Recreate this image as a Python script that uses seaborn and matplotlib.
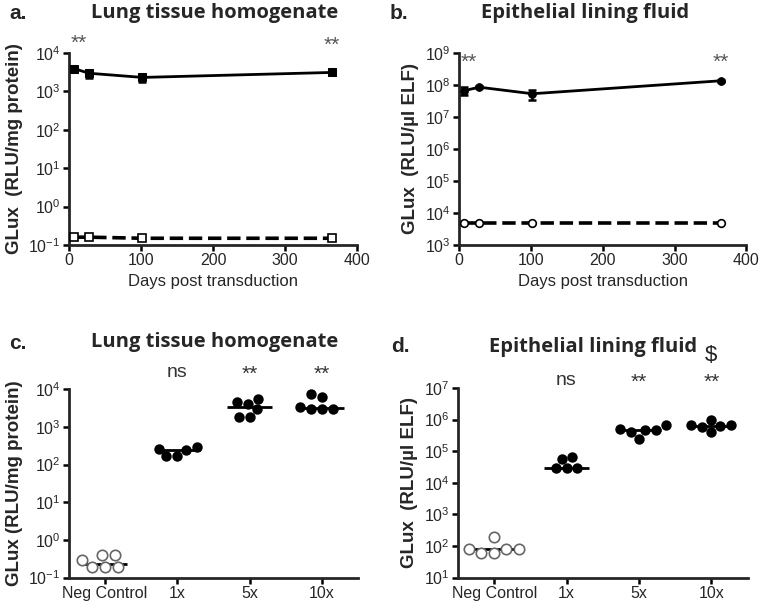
import numpy as np
import pandas as pd
import seaborn as sns
import matplotlib.pyplot as plt
from matplotlib.ticker import NullLocator, LogFormatterMathtext
import matplotlib.transforms as mtransforms

sns.set_style("ticks")
plt.rcParams['font.family'] = ['Liberation Sans', 'DejaVu Sans']
plt.rcParams['mathtext.fontset'] = 'custom'
plt.rcParams['mathtext.rm'] = 'Liberation Sans'
plt.rcParams['mathtext.it'] = 'Liberation Sans:italic'
plt.rcParams['mathtext.bf'] = 'Liberation Sans:bold'

# time course data (panels a, b)
days = [7, 28, 102, 365]
a_glux = [3900, 2950, 2300, 3100]
a_err = [500, 700, 500, 450]
a_neg = [0.16, 0.16, 0.15, 0.15]
b_glux = [6.6e7, 8.5e7, 5.3e7, 1.35e8]
b_err = [1.8e7, 5e6, 1.8e7, 8e6]
b_neg = [4800, 4800, 4800, 4800]

# dose data (panels c, d)
groups = ["Neg Control", "1x", "5x", "10x"]
c_neg = [0.39, 0.19, 0.19, 0.19, 0.29, 0.39]
c_1x = [290, 265, 170, 170, 250]
c_5x = [4500, 2900, 4100, 1850, 5500, 1850]
c_10x = [7500, 6200, 2900, 2900, 2900, 3400]
d_neg = [82, 62, 190, 62, 80, 78]
d_1x = [66000, 30000, 29000, 29000, 57000]
d_5x = [500000, 415000, 650000, 245000, 450000, 450000]
d_10x = [650000, 620000, 400000, 600000, 650000, 950000]

title_font = dict(family=['Open Sans', 'DejaVu Sans'], fontsize=14.5, fontweight='bold')
ylab_font = dict(fontsize=13.5, fontweight='bold')


def style_axis(ax, lo_exp, hi_exp):
    ax.set_yscale('log')
    ax.set_ylim(10.0 ** lo_exp, 10.0 ** hi_exp)
    ax.set_yticks(10.0 ** np.arange(lo_exp, hi_exp + 1))
    ax.yaxis.set_minor_locator(NullLocator())
    ax.yaxis.set_major_formatter(LogFormatterMathtext())
    for s in ['top', 'right']:
        ax.spines[s].set_visible(False)
    for s in ['left', 'bottom']:
        ax.spines[s].set_linewidth(2)
    ax.tick_params(width=1.8, length=4.5, labelsize=11.5, color='black', pad=1.5)


fig = plt.figure(figsize=(7.6, 6.08), dpi=100)
ax_a = fig.add_axes([0.0908, 0.597, 0.379, 0.316])
ax_b = fig.add_axes([0.604, 0.597, 0.378, 0.316])
ax_c = fig.add_axes([0.0908, 0.05, 0.380, 0.310])
ax_d = fig.add_axes([0.6026, 0.05, 0.381, 0.312])


def time_panel(ax, vals, errs, neg, lo_exp, hi_exp, marker, ylabel):
    style_axis(ax, lo_exp, hi_exp)
    tc = pd.DataFrame({'day': days, 'glux': vals, 'neg': neg})
    ax.errorbar(tc['day'], tc['glux'], yerr=errs, fmt='none', ecolor='black',
                elinewidth=1.8, capsize=3, capthick=1.8, zorder=3)
    sns.lineplot(data=tc, x='day', y='glux', ax=ax, color='black', lw=2,
                 marker=marker, markersize=5.5, markeredgecolor='black', zorder=4)
    sns.lineplot(data=tc, x='day', y='neg', ax=ax, color='black', lw=2.6,
                 dashes=(3, 1.5), linestyle='--', marker=marker, markersize=5.5,
                 markerfacecolor='white', markeredgecolor='black',
                 markeredgewidth=1.2, zorder=4)
    ax.set_xlim(0, 400)
    ax.set_xticks([0, 100, 200, 300, 400])
    ax.set_xlabel("Days post transduction", fontsize=12)
    ax.set_ylabel(ylabel, **ylab_font)


time_panel(ax_a, a_glux, a_err, a_neg, -1, 4, 's', "GLux  (RLU/mg protein)")
time_panel(ax_b, b_glux, b_err, b_neg, 3, 9, 'o', "GLux  (RLU/\u00b5l ELF)")

for ax, y in [(ax_a, 1.05), (ax_b, 0.95)]:
    tr = mtransforms.blended_transform_factory(ax.transData, ax.transAxes)
    ax.text(2, y, "**", transform=tr, color='#555555', fontsize=15, va='center', ha='left')
    ax.text(days[-1], y - (0.01 if ax is ax_a else 0), "**", transform=tr,
            color='#555555', fontsize=15, va='center', ha='center')


def dose_panel(ax, neg, g1, g5, g10, lo_exp, hi_exp, ylabel, ann_y):
    style_axis(ax, lo_exp, hi_exp)
    df = pd.DataFrame({
        'group': ["Neg Control"] * len(neg) + ["1x"] * len(g1) + ["5x"] * len(g5) + ["10x"] * len(g10),
        'glux': neg + g1 + g5 + g10,
    })
    sns.boxplot(data=df, x='group', y='glux', order=groups, ax=ax, width=0.62,
                showfliers=False, showcaps=False, whis=0,
                boxprops={'visible': False}, whiskerprops={'visible': False},
                medianprops={'color': 'black', 'lw': 2}, zorder=2)
    sns.swarmplot(data=df[df.group != "Neg Control"], x='group', y='glux', order=groups,
                  ax=ax, color='black', size=7.5, zorder=3)
    sns.swarmplot(data=df[df.group == "Neg Control"], x='group', y='glux', order=groups,
                  ax=ax, color='white', edgecolor='#666666', linewidth=1.2, size=7.5, zorder=3)
    ax.set_xlim(-0.5, 3.5)
    ax.set_ylim(10.0 ** lo_exp, 10.0 ** hi_exp)
    ax.set_xlabel("")
    ax.xaxis.label.set_visible(False)
    ax.set_ylabel(ylabel, **ylab_font)
    tr = mtransforms.blended_transform_factory(ax.transData, ax.transAxes)
    ax.text(1, ann_y, "ns", transform=tr, ha='center', va='center', fontsize=14, color='#333333')
    ax.text(2, ann_y - 0.01, "**", transform=tr, ha='center', va='center', fontsize=15, color='#333333')
    ax.text(3, ann_y - 0.01, "**", transform=tr, ha='center', va='center', fontsize=15, color='#333333')


dose_panel(ax_c, c_neg, c_1x, c_5x, c_10x, -1, 4, "GLux (RLU/mg protein)", 1.09)
dose_panel(ax_d, d_neg, d_1x, d_5x, d_10x, 1, 7, "GLux  (RLU/\u00b5l ELF)", 1.04)
ax_d.text(3, 1.17, "$", transform=mtransforms.blended_transform_factory(ax_d.transData, ax_d.transAxes),
          ha='center', va='center', fontsize=16, color='#222222')

# panel titles and letters
fig.text(0.283, 0.978, "Lung tissue homogenate", ha='center', va='center', **title_font)
fig.text(0.770, 0.978, "Epithelial lining fluid", ha='center', va='center', **title_font)
fig.text(0.283, 0.437, "Lung tissue homogenate", ha='center', va='center', **title_font)
fig.text(0.780, 0.430, "Epithelial lining fluid", ha='center', va='center', **title_font)
for x, y, s in [(0.012, 0.978, "a."), (0.512, 0.978, "b."), (0.012, 0.435, "c."), (0.515, 0.430, "d.")]:
    fig.text(x, y, s, ha='left', va='center', fontsize=15, fontweight='bold')

plt.savefig("out.png", dpi=100)
